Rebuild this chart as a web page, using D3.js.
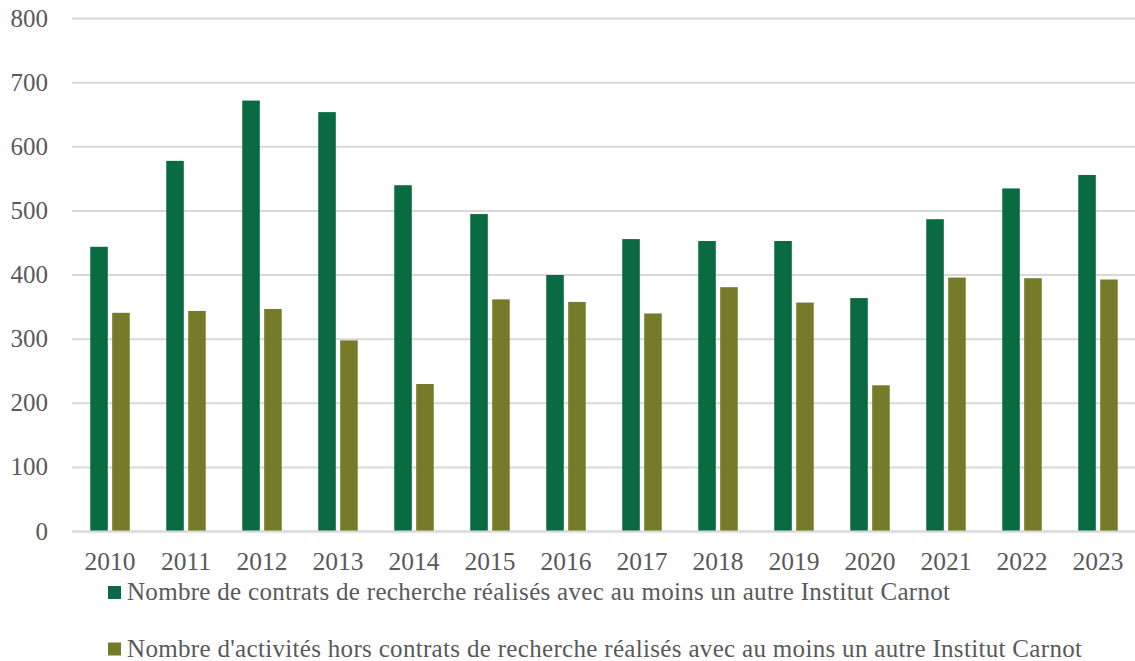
<!DOCTYPE html>
<html><head><meta charset="utf-8">
<script src="https://cdn.jsdelivr.net/npm/d3@7"></script>
<style>html,body{margin:0;padding:0;background:#fff;}</style>
</head><body>
<svg id="chart" width="1135" height="661"></svg>
<script>
const years = ["2010","2011","2012","2013","2014","2015","2016","2017","2018","2019","2020","2021","2022","2023"];
const contrats = [444, 578, 672, 654, 540, 495, 400, 456, 453, 453, 364, 487, 535, 556];
const activites = [341, 344, 347, 298, 230, 362, 358, 340, 381, 357, 228, 396, 395, 393];
const yTicks = [0, 100, 200, 300, 400, 500, 600, 700, 800];
const seriesNames = [
  "Nombre de contrats de recherche réalisés avec au moins un autre Institut Carnot",
  "Nombre d'activités hors contrats de recherche réalisés avec au moins un autre Institut Carnot"
];
const colors = ["#0a6b42", "#757b28"];

(function () {
const svg = d3.select("#chart");
const font = "'Liberation Serif', 'Times New Roman', serif";
const textColor = "#595959";
const pLeft = 72, pRight = 1136, pTop = 18.5, pBottom = 531.5;

const x = d3.scaleBand().domain(years).range([pLeft, pRight]).paddingInner(0).paddingOuter(0);
const y = d3.scaleLinear().domain([0, 800]).range([pBottom, pTop]);
const groupW = 39.5;
const x1 = d3.scaleBand().domain([0, 1]).range([0, groupW]).paddingInner(0.2);

svg.append("g").selectAll("line").data(yTicks).join("line")
  .attr("x1", pLeft).attr("x2", pRight)
  .attr("y1", d => y(d)).attr("y2", d => y(d))
  .attr("stroke", "#d9d9d9").attr("stroke-width", 2);

svg.append("g").selectAll("text").data(yTicks).join("text")
  .attr("x", 48).attr("y", d => y(d) + 8)
  .attr("text-anchor", "end")
  .attr("font-family", font).attr("font-size", 25).attr("fill", textColor)
  .text(d => d);

const data = years.map((yr, i) => ({yr, vals: [contrats[i], activites[i]]}));
const groups = svg.append("g").selectAll("g").data(data).join("g")
  .attr("transform", d => `translate(${x(d.yr) + (x.bandwidth() - groupW) / 2},0)`);
groups.selectAll("rect").data(d => d.vals.map((v, k) => ({v, k}))).join("rect")
  .attr("x", d => x1(d.k)).attr("width", x1.bandwidth())
  .attr("y", d => y(d.v)).attr("height", d => y(0) - y(d.v))
  .attr("fill", d => colors[d.k]);

svg.append("line").attr("x1", pLeft).attr("x2", pRight).attr("y1", y(0)).attr("y2", y(0))
  .attr("stroke", "#d9d9d9").attr("stroke-width", 2);

svg.append("g").selectAll("text").data(years).join("text")
  .attr("x", d => x(d) + x.bandwidth() / 2).attr("y", 570)
  .attr("text-anchor", "middle")
  .attr("font-family", font).attr("font-size", 25.5).attr("fill", textColor)
  .text(d => d);

const legendY = [600, 656.5];
const legendW = [823, 955];
const lg = svg.append("g").selectAll("g").data(seriesNames).join("g");
lg.append("rect").attr("x", 108).attr("y", (d, i) => legendY[i] - 14)
  .attr("width", 13).attr("height", 13).attr("fill", (d, i) => colors[i]);
lg.append("text").attr("x", 127).attr("y", (d, i) => legendY[i])
  .attr("font-family", font).attr("font-size", 25).attr("fill", textColor)
  .attr("textLength", (d, i) => legendW[i]).attr("lengthAdjust", "spacing")
  .text(d => d);
})();
</script>
</body></html>
